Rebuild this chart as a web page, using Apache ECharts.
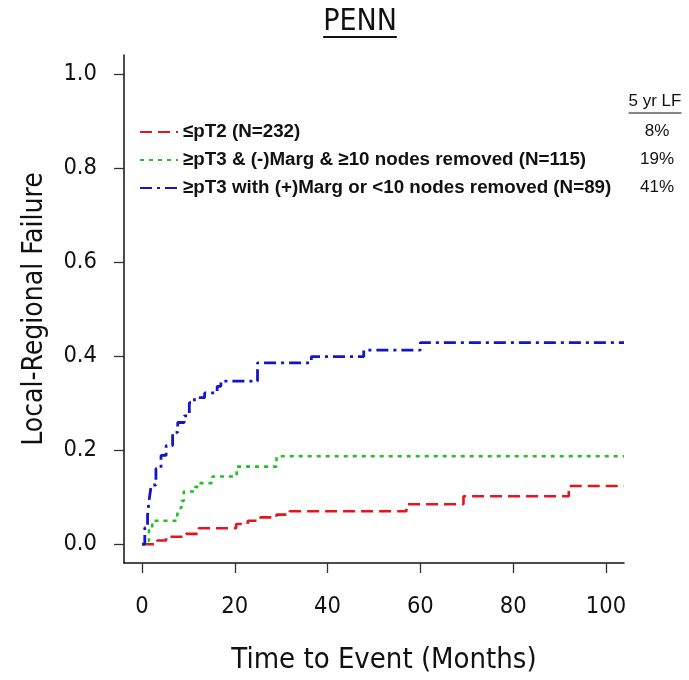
<!DOCTYPE html>
<html>
<head>
<meta charset="utf-8">
<script src="https://cdn.jsdelivr.net/npm/echarts@6/dist/echarts.min.js"></script>
<style>
  html, body { margin: 0; padding: 0; background: #fff; }
  #chart { width: 689px; height: 680px; }
</style>
</head>
<body>
<div id="chart"></div>
<script>
// Kaplan–Meier style cumulative local-regional failure, step curves [months, fraction]
const groupNames = [
  '≤pT2 (N=232)',
  '≥pT3 & (-)Marg & ≥10 nodes removed (N=115)',
  '≥pT3 with (+)Marg or <10 nodes removed (N=89)'
];
const fiveYearLF = ['8%', '19%', '41%'];

const curvePT2 = [
  [0, 0], [3.3, 0.008], [5.2, 0.016], [9.5, 0.022], [12.2, 0.034], [20.3, 0.043],
  [22.8, 0.050], [25.5, 0.057], [29.0, 0.063], [31.8, 0.070], [57.0, 0.085],
  [69.3, 0.102], [92.0, 0.124], [103.9, 0.124]
];
const curvePT3Neg = [
  [0, 0], [0.8, 0.007], [1.5, 0.030], [2.2, 0.050], [7.6, 0.063], [8.0, 0.077],
  [8.5, 0.092], [9.0, 0.112], [11.5, 0.122], [12.2, 0.130], [15.2, 0.144],
  [20.4, 0.165], [29.0, 0.187], [103.9, 0.187]
];
const curvePT3Pos = [
  [0, 0], [0.6, 0.035], [1.2, 0.063], [1.6, 0.099], [2.0, 0.126], [3.0, 0.161],
  [4.1, 0.189], [5.2, 0.210], [6.6, 0.238], [7.7, 0.259], [9.1, 0.273],
  [10.2, 0.301], [11.3, 0.312], [13.5, 0.322], [16.2, 0.336], [17.0, 0.347],
  [24.9, 0.386], [36.5, 0.399], [47.8, 0.413], [60.0, 0.429], [103.9, 0.429]
];

const xTicks = [0, 20, 40, 60, 80, 100];
const yTicks = [0, 0.2, 0.4, 0.6, 0.8, 1.0];

const axisFont = '"DejaVu Sans Condensed", "DejaVu Sans", sans-serif';
const legendFont = '"Liberation Sans", Arial, sans-serif';

function textWidth(str, font) {
  const ctx = document.createElement('canvas').getContext('2d');
  ctx.font = font;
  return ctx.measureText(str).width;
}

const chart = echarts.init(document.getElementById('chart'), null, { renderer: 'canvas' });

const titleText = 'PENN';
const titleSize = 30;
const titleW = textWidth(titleText, titleSize + 'px ' + axisFont);
const titleX = 360;

const lfHeader = '5 yr LF';
const lfSize = 17;
const lfW = textWidth(lfHeader, lfSize + 'px ' + legendFont);
const lfX = 655;
const rowY = [131, 159, 187];

const graphics = [
  {
    type: 'text', left: titleX - titleW / 2, top: 7,
    style: { text: titleText, font: titleSize + 'px ' + axisFont, fill: '#111' }
  },
  {
    type: 'line',
    shape: { x1: titleX - titleW / 2, y1: 37, x2: titleX + titleW / 2, y2: 37 },
    style: { stroke: '#111', lineWidth: 2 }
  },
  {
    type: 'text', x: lfX, y: 101,
    style: { text: lfHeader, font: lfSize + 'px ' + legendFont, fill: '#111', align: 'center', verticalAlign: 'middle' }
  },
  {
    type: 'line',
    shape: { x1: lfX - lfW / 2, y1: 113, x2: lfX + lfW / 2, y2: 113 },
    style: { stroke: '#111', lineWidth: 1.2 }
  }
];
fiveYearLF.forEach((v, i) => {
  graphics.push({
    type: 'text', x: lfX + 2, y: rowY[i],
    style: { text: v, font: lfSize + 'px ' + legendFont, fill: '#111', align: 'center', verticalAlign: 'middle' }
  });
});

const styles = [
  { color: '#e8141c', type: [12, 6], width: 2.6 },
  { color: '#22c022', type: [4, 5], width: 2.6 },
  { color: '#1414c8', type: [12, 5, 3, 5], width: 2.8 }
];
const curves = [curvePT2, curvePT3Neg, curvePT3Pos];

const option = {
  animation: false,
  backgroundColor: '#fff',
  grid: { left: 124, right: 65, top: 55, bottom: 111 },
  legend: {
    orient: 'vertical',
    left: 139,
    top: 122,
    padding: 0,
    itemWidth: 38,
    itemHeight: 14,
    itemGap: 8,
    itemStyle: { color: 'transparent', borderWidth: 0, opacity: 0 },
    textStyle: { fontFamily: legendFont, fontSize: 18.8, fontWeight: 'bold', color: '#111', lineHeight: 20 },
    data: groupNames
  },
  xAxis: {
    type: 'value',
    min: -3.88,
    max: 103.9,
    splitLine: { show: false },
    axisLine: { onZero: false, lineStyle: { color: '#111', width: 1.5 } },
    axisTick: { customValues: xTicks, length: 10, lineStyle: { color: '#333', width: 1.3 } },
    axisLabel: { customValues: xTicks, margin: 32, fontFamily: axisFont, fontSize: 23.5, color: '#111' },
    name: 'Time to Event (Months)',
    nameLocation: 'middle',
    nameGap: 83,
    nameTextStyle: { fontFamily: axisFont, fontSize: 29, color: '#111', padding: [0, 0, 0, 20] }
  },
  yAxis: {
    type: 'value',
    min: -0.04,
    max: 1.041,
    splitLine: { show: false },
    axisLine: { onZero: false, lineStyle: { color: '#111', width: 1.5 } },
    axisTick: { customValues: yTicks, length: 10, lineStyle: { color: '#333', width: 1.3 } },
    axisLabel: {
      customValues: yTicks, margin: 27, fontFamily: axisFont, fontSize: 23.5, color: '#111',
      formatter: v => v.toFixed(1)
    },
    name: 'Local-Regional Failure',
    nameLocation: 'middle',
    nameRotate: 90,
    nameGap: 75,
    nameTextStyle: { fontFamily: axisFont, fontSize: 28, color: '#111' }
  },
  series: curves.map((c, i) => ({
    name: groupNames[i],
    type: 'line',
    step: 'end',
    symbol: 'none',
    data: c,
    color: styles[i].color,
    lineStyle: { color: styles[i].color, type: styles[i].type, width: styles[i].width }
  })),
  graphic: graphics
};

chart.setOption(option);
</script>
</body>
</html>
